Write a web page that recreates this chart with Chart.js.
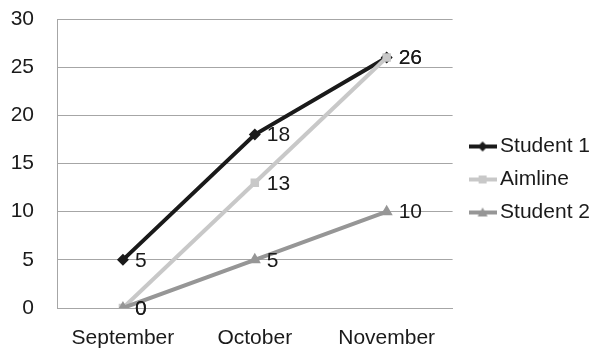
<!DOCTYPE html>
<html>
<head>
<meta charset="utf-8">
<script src="https://cdn.jsdelivr.net/npm/chart.js@4"></script>
<style>
    html, body { margin: 0; padding: 0; background: #fff; }
    #wrap { width: 592px; height: 348px; }
</style>
</head>
<body>
<div id="wrap"><canvas id="progress_chart"></canvas></div>
<script>
var months = ["September", "October", "November"];
var student1 = [5, 18, 26];
var aimline = [0, 13, 26];
var student2 = [0, 5, 10];
var yTicks = [0, 5, 10, 15, 20, 25, 30];

var textColor = "#1a1a1a";
var fontFamily = "'Liberation Sans', Arial, sans-serif";
var fontSize = 21;

// little line + marker picture for the legend
function legendIcon(color, shape) {
    let c = document.createElement("canvas");
    c.width = 28;
    c.height = 12;
    let ctx = c.getContext("2d");
    ctx.strokeStyle = color;
    ctx.fillStyle = color;
    ctx.lineWidth = 4;
    ctx.beginPath();
    ctx.moveTo(0, 6);
    ctx.lineTo(28, 6);
    ctx.stroke();
    ctx.beginPath();
    if (shape == "rectRot") {
        ctx.moveTo(14, 1); ctx.lineTo(19, 6); ctx.lineTo(14, 11); ctx.lineTo(9, 6);
    } else if (shape == "rect") {
        ctx.rect(10, 2, 8, 8);
    } else {
        ctx.moveTo(14, 1); ctx.lineTo(19, 10); ctx.lineTo(9, 10);
    }
    ctx.closePath();
    ctx.fill();
    return c;
}

// value labels to the right of each point
var pointLabels = {
    id: "pointLabels",
    afterDatasetsDraw: function(chart) {
        let ctx = chart.ctx;
        ctx.save();
        ctx.font = fontSize + "px " + fontFamily;
        ctx.fillStyle = textColor;
        ctx.textAlign = "left";
        ctx.textBaseline = "middle";
        chart.data.datasets.forEach(function(ds, i) {
            let meta = chart.getDatasetMeta(i);
            meta.data.forEach(function(pt, j) {
                ctx.fillText(String(ds.data[j]), pt.x + 12, pt.y + 1);
            });
        });
        ctx.restore();
    }
};

// push the legend a bit to the right of the plot, like the original
var legendShift = {
    id: "legendShift",
    afterLayout: function(chart) {
        let lg = chart.legend;
        if (!lg) return;
        lg.left += 11;
        lg.right += 11;
        lg.top -= 4;
        lg.bottom -= 4;
    }
};

var dataSet = [
    { label: "Student 1", data: student1, color: "#1a1a1a", style: "rectRot", radius: 6, order: 3 },
    { label: "Aimline", data: aimline, color: "#c8c8c8", style: "rect", radius: 6, order: 2 },
    { label: "Student 2", data: student2, color: "#969696", style: "triangle", radius: 7, order: 1 }
].map(function(s) {
    return {
        label: s.label,
        data: s.data,
        borderColor: s.color,
        backgroundColor: s.color,
        borderWidth: 4,
        pointStyle: s.style,
        pointRadius: s.radius,
        pointBorderWidth: 0,
        pointBackgroundColor: s.color,
        order: s.order,
        legendIcon: legendIcon(s.color, s.style)
    };
});

new Chart("progress_chart", {
    type: "line",
    data: {
        labels: months,
        datasets: dataSet
    },
    plugins: [pointLabels, legendShift],
    options: {
        responsive: true,
        maintainAspectRatio: false,
        animation: false,
        layout: {
            padding: { top: 19, left: 9, right: 3, bottom: 0 }
        },
        scales: {
            x: {
                offset: true,
                grid: { display: false, drawTicks: false },
                border: { display: true, color: "#a6a6a6", width: 1 },
                ticks: {
                    color: textColor,
                    font: { family: fontFamily, size: fontSize },
                    padding: 18,
                    maxRotation: 0
                },
                afterFit: function(scale) {
                    scale.height = 40;
                    scale.paddingLeft = 0;
                    scale.paddingRight = 0;
                }
            },
            y: {
                min: 0,
                max: 30,
                afterBuildTicks: function(scale) {
                    scale.ticks = yTicks.map(function(v) { return { value: v }; });
                },
                grid: { color: "#a6a6a6", lineWidth: 1, drawTicks: false },
                border: { display: true, color: "#a6a6a6", width: 1 },
                ticks: {
                    color: textColor,
                    font: { family: fontFamily, size: fontSize },
                    padding: 23
                },
                afterFit: function(scale) {
                    scale.width = 48;
                    scale.paddingTop = 0;
                    scale.paddingBottom = 0;
                }
            }
        },
        plugins: {
            tooltip: { enabled: false },
            legend: {
                position: "right",
                labels: {
                    color: textColor,
                    font: { family: fontFamily, size: fontSize },
                    usePointStyle: true,
                    pointStyleWidth: 14,
                    boxHeight: 20,
                    padding: 12,
                    sort: function(a, b) { return a.datasetIndex - b.datasetIndex; },
                    generateLabels: function(chart) {
                        return chart.data.datasets.map(function(ds, i) {
                            return {
                                text: ds.label,
                                fontColor: textColor,
                                pointStyle: ds.legendIcon,
                                lineWidth: 0,
                                strokeStyle: "transparent",
                                fillStyle: "transparent",
                                datasetIndex: i,
                                hidden: false
                            };
                        });
                    }
                }
            }
        }
    }
});
</script>
</body>
</html>
